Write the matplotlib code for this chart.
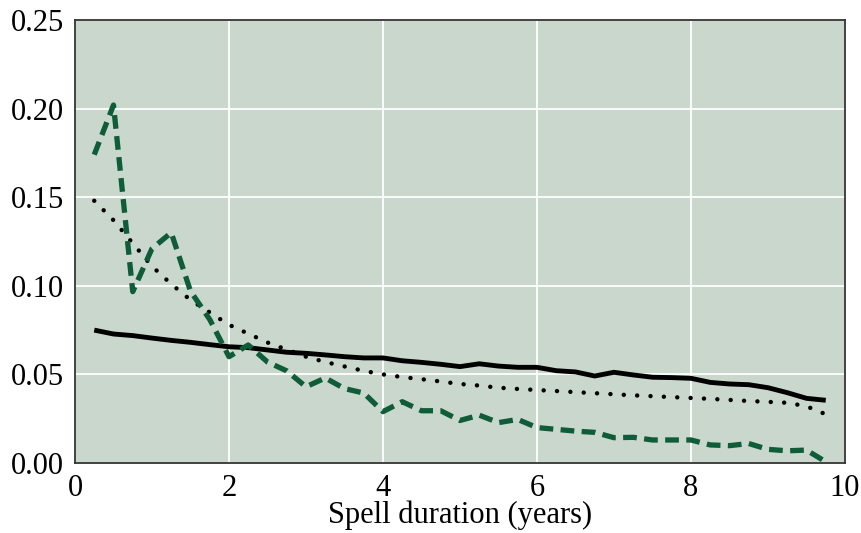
import numpy as np
import matplotlib
matplotlib.use("Agg")
import matplotlib.pyplot as plt

# quarterly spell durations (years)
duration = np.arange(1, 40) * 0.25

solid_rate = [0.075, 0.0728, 0.0719, 0.0705, 0.0692, 0.0681, 0.0668, 0.0656,
              0.0651, 0.0638, 0.0625, 0.0619, 0.061, 0.060, 0.0593, 0.0593,
              0.0577, 0.0568, 0.0557, 0.0544, 0.056, 0.0547, 0.054, 0.054,
              0.0521, 0.0514, 0.0491, 0.0512, 0.0497, 0.0484, 0.0482, 0.0478,
              0.0455, 0.0446, 0.0442, 0.0425, 0.0397, 0.0365, 0.0354]

dotted_rate = [0.148, 0.137, 0.124, 0.111, 0.101, 0.092, 0.085, 0.078,
               0.073, 0.068, 0.064, 0.060, 0.057, 0.0545, 0.052, 0.050,
               0.0485, 0.0473, 0.046, 0.0446, 0.0437, 0.0425, 0.0418, 0.0412,
               0.0406, 0.040, 0.0394, 0.0388, 0.0382, 0.0377, 0.0372, 0.0367,
               0.0362, 0.0356, 0.035, 0.0345, 0.034, 0.032, 0.0275]

dashed_rate = [0.174, 0.202, 0.0967, 0.121, 0.130, 0.097, 0.081, 0.060,
               0.0666, 0.057, 0.052, 0.043, 0.048, 0.042, 0.0395, 0.029,
               0.0346, 0.0295, 0.0295, 0.024, 0.027, 0.0228, 0.0246, 0.020,
               0.019, 0.018, 0.0173, 0.0143, 0.0145, 0.013, 0.013, 0.013,
               0.0102, 0.0098, 0.011, 0.0077, 0.0069, 0.0073, 0.0007]

x_ticks = [0, 2, 4, 6, 8, 10]
y_ticks = [0.00, 0.05, 0.10, 0.15, 0.20, 0.25]

plt.rcParams['font.family'] = ['Liberation Serif', 'DejaVu Serif']

fig = plt.figure(figsize=(8.61, 5.33), dpi=100)
ax = fig.add_axes([0.0871, 0.1313, 0.8943, 0.8312])
ax.set_facecolor("#c9d7cc")

ax.plot(duration, solid_rate, color="black", lw=3.5, solid_capstyle="butt", zorder=3)
ax.plot(duration, dotted_rate, color="black", lw=3.2, linestyle=(0, (0.01, 3.0)),
        dash_capstyle="round", zorder=3)
ax.plot(duration, dashed_rate, color="#0f5c38", lw=3.8, linestyle=(0, (2.6, 1.4)),
        dash_capstyle="butt", zorder=3)

ax.set_xlim(0, 10)
ax.set_ylim(0, 0.25)
ax.set_xticks(x_ticks)
ax.set_xticklabels([str(t) for t in x_ticks])
ax.set_yticks(y_ticks)
ax.set_yticklabels([f"{t:.2f}" for t in y_ticks])
ax.grid(True, color="white", lw=1.3, zorder=1)
ax.set_axisbelow(True)
ax.tick_params(axis="x", length=0, labelsize=22, pad=8, colors="black")
ax.tick_params(axis="y", length=0, labelsize=22, pad=8, colors="black")
for sp in ax.spines.values():
    sp.set_color("#333333")
    sp.set_linewidth(1.3)
ax.set_xlabel("Spell duration (years)", fontsize=22, labelpad=-2)

fig.savefig("out.png", dpi=100)
